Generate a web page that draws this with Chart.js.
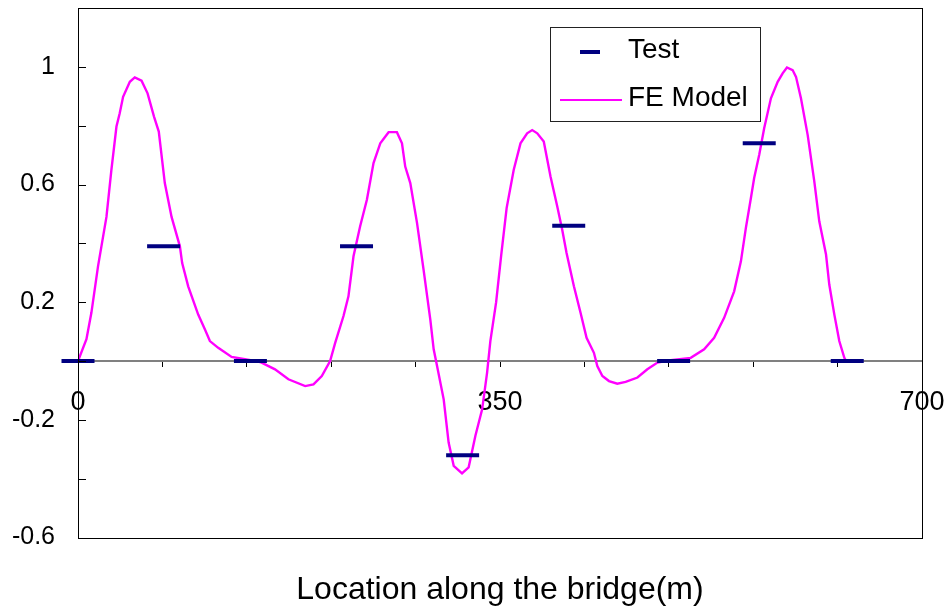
<!DOCTYPE html>
<html>
<head>
<meta charset="utf-8">
<script src="https://cdn.jsdelivr.net/npm/chart.js@4.4.1/dist/chart.umd.min.js"></script>
<style>
  html, body { margin: 0; padding: 0; background: #fff; }
  #wrap { width: 952px; height: 614px; position: relative; }
</style>
</head>
<body>
<div id="wrap"><canvas id="bridgeChart"></canvas></div>
<script>
// measured test values along the bridge
const testX = [0, 71, 143, 231, 319, 407, 494, 565, 638];
const testY = [0, 0.39, 0, 0.39, -0.32, 0.46, 0, 0.74, 0];

// FE model curve
const feX = [0, 7, 11.1, 16.6, 23.6, 27.7, 31.9, 34.6, 37.4, 43, 47.1, 52.7, 57.7, 63.1, 67, 72, 77.6, 84.5, 86.4, 91.4,
  99.7, 105.3, 109.4, 116.3, 127.4, 138.5, 151, 163.4, 174.5, 188.4, 195.3, 202.2, 209.1, 213.3, 220.2, 224.3, 228.5,
  234, 239.6, 245.1, 250.7, 257.6, 264.5, 268.7, 271.4, 275.6, 281.2, 286.6, 292.2, 295, 297.8, 303.3, 307.4, 311.6,
  318.5, 324, 329.6, 335.2, 339.3, 342, 346.8, 351, 355.5, 361.4, 367, 372.5, 376.7, 380.9, 386.3, 391.9, 397.5,
  401.6, 405.2, 411.3, 416.8, 421.8, 427.9, 430.7, 434.9, 440.4, 447.3, 454.2, 464, 472.2, 480.6, 491.6, 508.2,
  519.3, 527.6, 535.9, 544.2, 549.8, 553.9, 558.1, 560.8, 565, 569.1, 574.7, 580.3, 584.4, 588, 592.7, 595.5,
  599.6, 605.2, 610.7, 614.8, 620.4, 623.1, 627.3, 631.4, 635.6, 637];
const feY = [0, 0.074, 0.164, 0.322, 0.49, 0.65, 0.797, 0.842, 0.898, 0.949, 0.964, 0.953, 0.91, 0.83, 0.78, 0.605, 0.49, 0.39, 0.333, 0.254,
  0.158, 0.107, 0.068, 0.045, 0.014, 0.006, -0.003, -0.028, -0.062, -0.085, -0.079, -0.051, 0, 0.062, 0.153, 0.22, 0.356,
  0.458, 0.548, 0.673, 0.74, 0.778, 0.778, 0.74, 0.661, 0.605, 0.469, 0.311, 0.141, 0.04, -0.017, -0.13, -0.277, -0.356,
  -0.382, -0.361, -0.254, -0.164, -0.039, 0.068, 0.2, 0.36, 0.52, 0.65, 0.74, 0.774, 0.785, 0.774, 0.746, 0.627, 0.525,
  0.446, 0.367, 0.254, 0.164, 0.079, 0.028, -0.017, -0.051, -0.068, -0.077, -0.071, -0.056, -0.028, -0.005, 0.003, 0.011,
  0.04, 0.079, 0.147, 0.237, 0.339, 0.452, 0.554, 0.622, 0.701, 0.791, 0.893, 0.949, 0.978, 0.998, 0.989, 0.966,
  0.893, 0.768, 0.61, 0.475, 0.362, 0.26, 0.158, 0.068, 0.011, 0];

const xLabels = ['0', '350', '700'];
const yLabels = ['-0.6', '-0.2', '0.2', '0.6', '1'];

const NAVY = '#000080';
const MAGENTA = '#ff00ff';
const FONT = 'Arial, "Liberation Sans", sans-serif';

// zero line under the data; box round the plot, inward y ticks and the legend on top
const framePlugin = {
  id: 'frame',
  beforeDatasetsDraw(chart) {
    const ctx = chart.ctx;
    const a = chart.chartArea;
    const y0 = Math.round(chart.scales.y.getPixelForValue(0));
    ctx.save();
    ctx.strokeStyle = '#808080';
    ctx.lineWidth = 2;
    ctx.beginPath();
    ctx.moveTo(a.left, y0);
    ctx.lineTo(a.right, y0);
    ctx.stroke();
    ctx.restore();
  },
  afterDraw(chart) {
    const ctx = chart.ctx;
    const a = chart.chartArea;
    const ys = chart.scales.y;
    ctx.save();
    ctx.strokeStyle = '#000';
    ctx.lineWidth = 1;
    ctx.strokeRect(Math.round(a.left) + 0.5, Math.round(a.top) + 0.5,
      Math.round(a.right - a.left), Math.round(a.bottom - a.top));
    ys.ticks.forEach(t => {
      const py = Math.round(ys.getPixelForValue(t.value)) + 0.5;
      ctx.beginPath();
      ctx.moveTo(a.left, py);
      ctx.lineTo(a.left + 8, py);
      ctx.stroke();
    });

    // legend
    const lx = 550, ly = 27, lw = 210, lh = 94;
    ctx.fillStyle = '#fff';
    ctx.fillRect(lx, ly, lw, lh);
    ctx.strokeStyle = '#222';
    ctx.strokeRect(lx + 0.5, ly + 0.5, lw, lh);
    ctx.lineCap = 'butt';
    ctx.strokeStyle = NAVY;
    ctx.lineWidth = 4;
    ctx.beginPath();
    ctx.moveTo(580, 52);
    ctx.lineTo(600, 52);
    ctx.stroke();
    ctx.strokeStyle = MAGENTA;
    ctx.lineWidth = 2;
    ctx.beginPath();
    ctx.moveTo(560, 100);
    ctx.lineTo(622, 100);
    ctx.stroke();
    ctx.fillStyle = '#000';
    ctx.font = '28px ' + FONT;
    ctx.textBaseline = 'middle';
    ctx.textAlign = 'left';
    ctx.fillText(chart.data.datasets[0].label, 628, 50);
    ctx.fillText(chart.data.datasets[1].label, 628, 98);
    ctx.restore();
  }
};

new Chart(document.getElementById('bridgeChart'), {
  type: 'scatter',
  data: {
    datasets: [
      {
        label: 'Test',
        data: testX.map((x, i) => ({ x: x, y: testY[i] })),
        pointStyle: 'line',
        pointRadius: 16.5,
        pointHoverRadius: 16.5,
        borderColor: NAVY,
        backgroundColor: NAVY,
        pointBorderWidth: 4,
        borderWidth: 4,
        showLine: false,
        clip: false,
        order: 0
      },
      {
        label: 'FE Model',
        data: feX.map((x, i) => ({ x: x, y: feY[i] })),
        showLine: true,
        borderColor: MAGENTA,
        borderWidth: 2.4,
        pointRadius: 0,
        tension: 0,
        fill: false,
        order: 1
      }
    ]
  },
  options: {
    responsive: true,
    maintainAspectRatio: false,
    animation: false,
    layout: { autoPadding: false, padding: { left: 0, right: 30, top: 8, bottom: 0 } },
    plugins: {
      legend: { display: false },
      tooltip: { enabled: false },
      title: {
        display: true,
        position: 'bottom',
        fullSize: false,
        text: 'Location along the bridge(m)',
        color: '#000',
        font: { family: FONT, size: 32, weight: 'normal' },
        padding: { top: 33, bottom: 5 }
      }
    },
    scales: {
      x: {
        type: 'linear',
        position: { y: 0 },
        min: 0,
        max: 700,
        afterFit: s => { s.height = 0; s.paddingLeft = 0; s.paddingRight = 0; },
        border: { display: false },
        grid: { display: true, drawOnChartArea: false, drawTicks: true, tickLength: 6, tickColor: '#000' },
        ticks: {
          stepSize: 70,
          autoSkip: false,
          maxRotation: 0,
          padding: 19,
          color: '#000',
          font: { family: FONT, size: 27 },
          callback: (v, i) => (i % 5 === 0 ? xLabels[i / 5] : '')
        }
      },
      y: {
        type: 'linear',
        min: -0.6,
        max: 1.2,
        afterFit: s => { s.width = 78; s.paddingTop = 0; s.paddingBottom = 0; },
        border: { display: true, color: '#000', width: 1 },
        grid: { display: true, drawOnChartArea: false, drawTicks: false },
        ticks: {
          stepSize: 0.2,
          padding: 23,
          color: '#000',
          font: { family: FONT, size: 25 },
          callback: (v, i) => (i % 2 === 0 && i / 2 < yLabels.length ? yLabels[i / 2] : '')
        }
      }
    }
  },
  plugins: [framePlugin]
});
</script>
</body>
</html>
